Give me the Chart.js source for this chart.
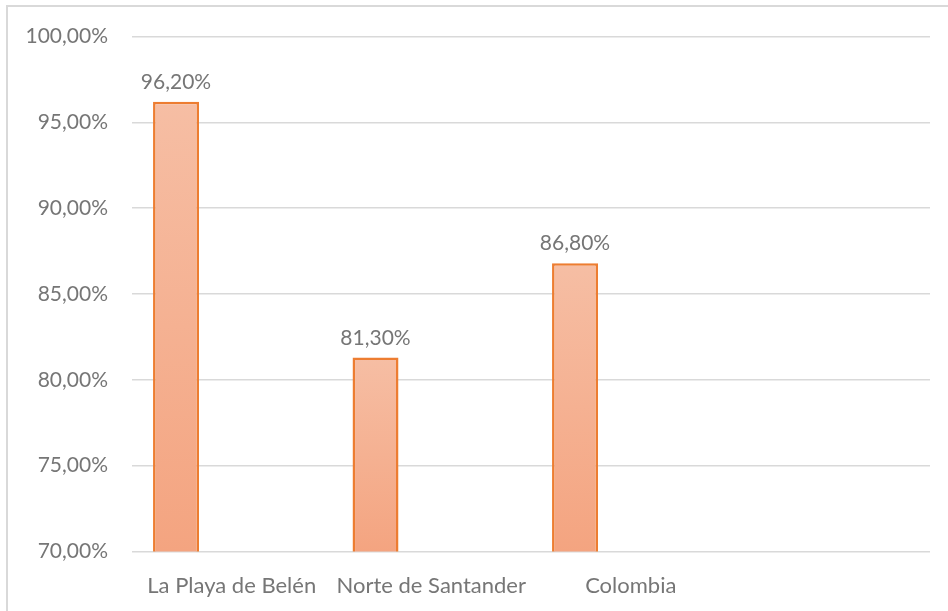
<!DOCTYPE html>
<html>
<head>
<meta charset="utf-8">
<script src="https://cdn.jsdelivr.net/npm/chart.js@4"></script>
<style>
  html, body { margin: 0; padding: 0; background: #fff; }
  #wrap { position: relative; width: 948px; height: 611px; }
  #frame { position: absolute; left: 6px; top: 5px; right: 0; bottom: 0;
           border-left: 2px solid #d9d9d9; border-top: 2px solid #d9d9d9; }
  canvas { position: absolute; left: 0; top: 0; }
</style>
</head>
<body>
<div id="wrap">
  <div id="frame"></div>
  <canvas id="myChart" width="948" height="611"></canvas>
</div>
<script>
// DATA
var categories = ["La Playa de Belén", "Norte de Santander", "Colombia", ""];
var values = [96.2, 81.3, 86.8, null];
var emptySeries = [null, null, null, null];
var yTicks = [70, 75, 80, 85, 90, 95, 100];

var textColor = "#767676";
var fontFamily = "Lato, 'Open Sans', sans-serif";

function pct(v) {
  return v.toFixed(2).replace(".", ",") + "%";
}

// gradient per bar, light at top, darker at bottom
function barGradient(c) {
  var chart = c.chart;
  var area = chart.chartArea;
  if (!area || c.raw == null) return "#f4a683";
  var yScale = chart.scales.y;
  var top = yScale.getPixelForValue(c.raw);
  var g = chart.ctx.createLinearGradient(0, top, 0, area.bottom);
  g.addColorStop(0, "#f6bea4");
  g.addColorStop(1, "#f4a480");
  return g;
}

// value labels above the bars
var barLabels = {
  id: "barLabels",
  afterDatasetsDraw(chart) {
    var ctx = chart.ctx;
    var meta = chart.getDatasetMeta(0);
    ctx.save();
    ctx.font = "21px " + fontFamily;
    ctx.fillStyle = textColor;
    ctx.textAlign = "center";
    ctx.textBaseline = "bottom";
    meta.data.forEach((bar, i) => {
      if (values[i] == null) return;
      ctx.fillText(pct(values[i]), bar.x, bar.y - 9);
    });
    ctx.restore();
  },
};

new Chart("myChart", {
  type: "bar",
  data: {
    labels: categories,
    datasets: [
      {
        data: values,
        backgroundColor: barGradient,
        borderColor: "#ed7d31",
        borderWidth: 2.5,
        categoryPercentage: 0.838,
        barPercentage: 0.825,
      },
      { data: emptySeries, categoryPercentage: 0.838, barPercentage: 0.825 },
      { data: emptySeries, categoryPercentage: 0.838, barPercentage: 0.825 },
    ],
  },
  plugins: [barLabels],
  options: {
    responsive: false,
    animation: false,
    layout: { padding: { left: 0, right: 18, top: 35, bottom: 0 } },
    plugins: {
      legend: { display: false },
      tooltip: { enabled: false },
    },
    scales: {
      x: {
        grid: { display: false },
        border: { display: false },
        ticks: {
          color: textColor,
          font: { family: fontFamily, size: 22 },
          padding: 13,
          maxRotation: 0,
        },
        afterFit: (s) => { s.height = 59.5; },
      },
      y: {
        min: 70,
        max: 100,
        afterBuildTicks: (s) => { s.ticks = yTicks.map((v) => ({ value: v })); },
        grid: { color: "#d9d9d9", lineWidth: 1.5, drawTicks: false },
        border: { display: false },
        ticks: {
          color: textColor,
          font: { family: fontFamily, size: 21 },
          padding: 24,
          callback: (v) => pct(v),
        },
        afterFit: (s) => { s.width = 132; },
      },
    },
  },
});
</script>
</body>
</html>
